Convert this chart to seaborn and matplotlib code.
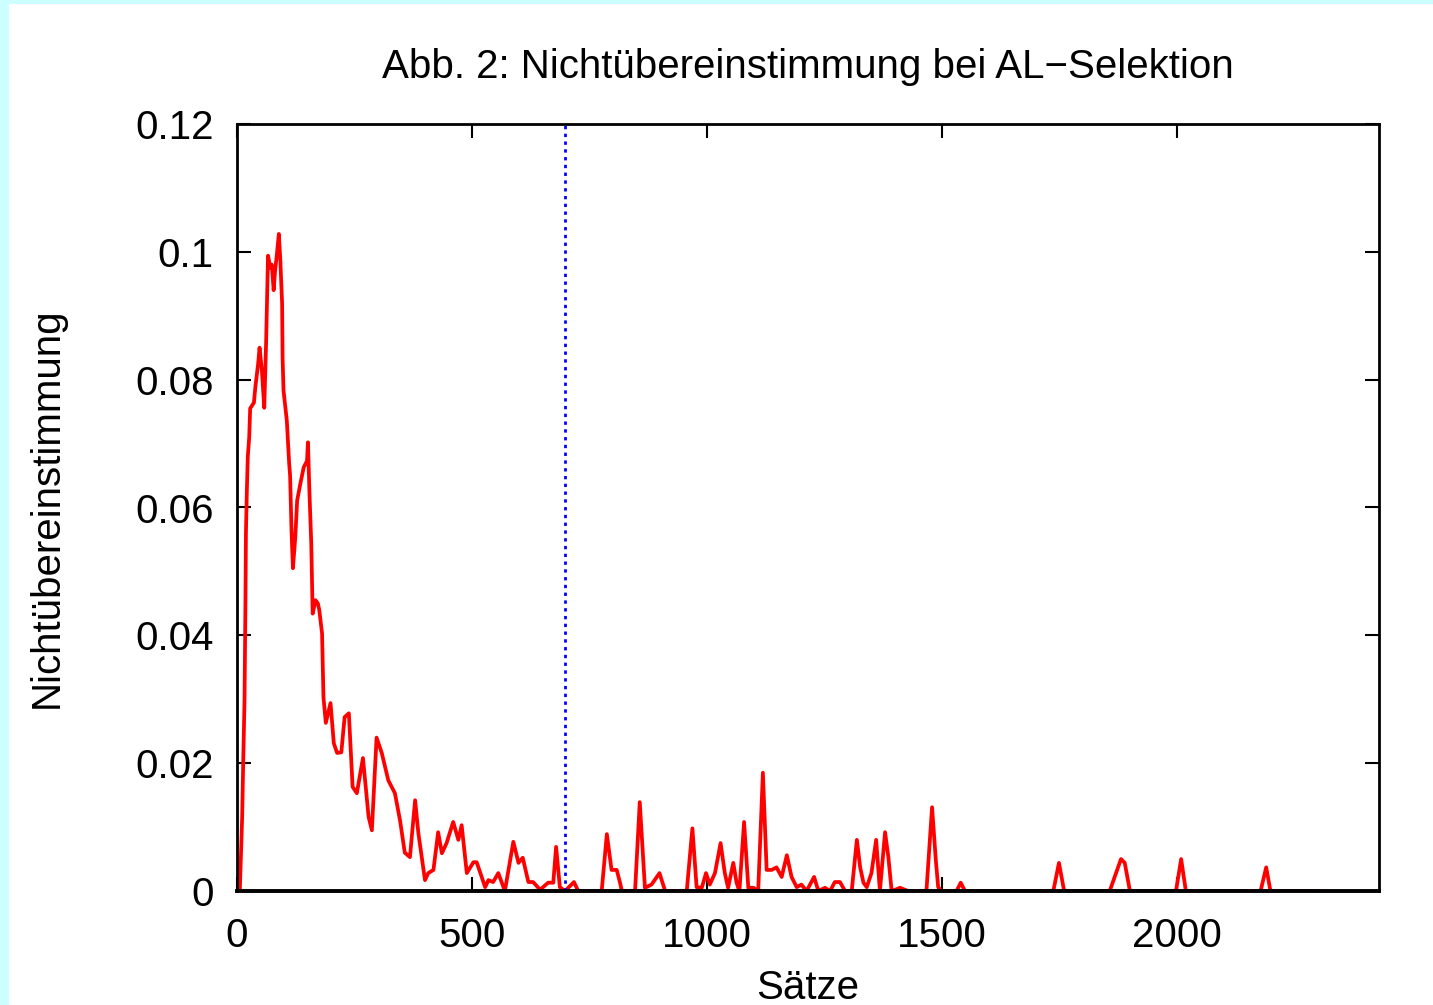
import numpy as np
import pandas as pd
import matplotlib
matplotlib.use("Agg")
import matplotlib.pyplot as plt
from matplotlib.patches import Rectangle
import seaborn as sns

saetze = [0, 6, 11, 13, 16, 18, 19, 21, 23, 26, 28, 36, 39, 45, 48, 53, 58, 62,
          66, 71, 74, 78, 81, 85, 89, 92, 96, 97, 99, 106, 111, 113, 116, 119,
          124, 128, 135, 142, 149, 151, 154, 158, 161, 167, 172, 175, 181, 184,
          189, 199, 206, 213, 222, 229, 238, 246, 255, 268, 273, 280, 287, 297,
          308, 322, 336, 347, 357, 368, 379, 386, 400, 407, 418, 428, 436, 446,
          460, 471, 478, 489, 503, 510, 528, 535, 545, 556, 570, 588, 599, 608,
          620, 630, 645, 662, 673, 679, 687, 698, 717, 726, 776, 787, 797, 808,
          815, 819, 847, 857, 868, 882, 899, 911, 957, 969, 978, 989, 998, 1006,
          1017, 1029, 1038, 1045, 1056, 1063, 1069, 1079, 1088, 1099, 1109, 1119,
          1127, 1138, 1148, 1159, 1170, 1180, 1191, 1201, 1212, 1228, 1237, 1251,
          1262, 1272, 1283, 1294, 1308, 1319, 1326, 1333, 1340, 1350, 1360, 1368,
          1379, 1386, 1393, 1411, 1428, 1467, 1479, 1487, 1492, 1499, 1531, 1540,
          1549, 1737, 1749, 1760, 1857, 1881, 1889, 1900, 1998, 2009, 2019, 2178,
          2190, 2199, 2300]
nicht = [0, 0, 0.0116, 0.0194, 0.0298, 0.0455, 0.056, 0.0627, 0.068, 0.071,
         0.0755, 0.0764, 0.0788, 0.0825, 0.085, 0.0814, 0.0756, 0.086, 0.0994,
         0.0975, 0.098, 0.094, 0.097, 0.0997, 0.1028, 0.099, 0.0919, 0.0834,
         0.0783, 0.0736, 0.0669, 0.065, 0.0564, 0.0505, 0.0553, 0.0611, 0.0638,
         0.0663, 0.0673, 0.0702, 0.0627, 0.0544, 0.0434, 0.0455, 0.045, 0.044,
         0.0403, 0.0303, 0.0263, 0.0294, 0.0231, 0.0216, 0.0217, 0.0272, 0.0278,
         0.0163, 0.0153, 0.0208, 0.017, 0.0116, 0.0095, 0.024, 0.0216, 0.0173,
         0.0153, 0.011, 0.006, 0.0053, 0.0142, 0.009, 0.0017, 0.0028, 0.0033,
         0.0092, 0.0059, 0.0075, 0.0108, 0.008, 0.0103, 0.0028, 0.0045, 0.0045,
         0.0006, 0.0017, 0.0014, 0.0028, 0, 0.0077, 0.0044, 0.0052, 0.0014,
         0.0014, 0.0002, 0.0013, 0.0013, 0.0069, 0.0006, 0, 0.0014, 0, 0,
         0.0089, 0.0033, 0.0033, 0.0013, 0, 0, 0.0139, 0.0005, 0.001, 0.0028, 0,
         0, 0.0098, 0.0006, 0.0005, 0.0028, 0.001, 0.0028, 0.0075, 0.0028,
         0.0005, 0.0044, 0.0013, 0, 0.0108, 0.0005, 0.0005, 0, 0.0185, 0.0033,
         0.0033, 0.0037, 0.0022, 0.0056, 0.0022, 0.0006, 0.001, 0, 0.0022, 0,
         0.0005, 0, 0.0014, 0.0014, 0, 0, 0.008, 0.0037, 0.0013, 0.0006, 0.0028,
         0.008, 0, 0.0092, 0.0053, 0, 0.0005, 0, 0, 0.0131, 0.0048, 0.0006, 0,
         0, 0.0013, 0, 0, 0.0044, 0, 0, 0.005, 0.0044, 0, 0, 0.005, 0, 0, 0.0037,
         0, 0]
grenze = 698
x_ticks = [0, 500, 1000, 1500, 2000]
y_ticks = [0, 0.02, 0.04, 0.06, 0.08, 0.1, 0.12]
y_ticklabels = ['0', '0.02', '0.04', '0.06', '0.08', '0.1', '0.12']

df = pd.DataFrame({'Saetze': saetze, 'Nicht': nicht})

# Plot ..................................................................
sns.set_style("ticks")
plt.rcParams['font.family'] = ['Liberation Sans', 'DejaVu Sans']
plt.rcParams['text.color'] = 'black'
plt.rcParams['axes.labelcolor'] = 'black'
plt.rcParams['xtick.color'] = 'black'
plt.rcParams['ytick.color'] = 'black'

fig = plt.figure(figsize=(14.33, 10.05), dpi=100, facecolor='#ccffff')
fig.patches.append(Rectangle((9/1433, 0), 1, 1 - 4/1005, transform=fig.transFigure,
                             facecolor='white', edgecolor='none', zorder=-10))
ax = fig.add_axes([237/1433, 1 - 891/1005, (1379-237)/1433, (891-124)/1005])
ax.set_zorder(5)

sns.lineplot(data=df, x='Saetze', y='Nicht', ax=ax, color='#ff0000', linewidth=2.7,
             sort=False, estimator=None)
ax.axvline(grenze, color='#0000ff', linestyle=(0, (1.2, 1.6)), linewidth=2)

ax.set_xlim(0, 2430)
ax.set_ylim(0, 0.12)
ax.set_xticks(x_ticks)
ax.set_yticks(y_ticks)
ax.set_yticklabels(y_ticklabels)
ax.tick_params(direction='in', top=True, right=True, length=10, width=1.5,
               labelsize=29)
ax.tick_params(axis='y', pad=17)
ax.tick_params(axis='x', pad=19)
for s in ax.spines.values():
    s.set_linewidth(2)
    s.set_color('black')
ax.spines['bottom'].set_linewidth(2.8)

ax.set_title('Abb. 2: Nichtübereinstimmung bei AL\u2212Selektion', fontsize=29, pad=33)
ax.set_xlabel('Sätze', fontsize=29, labelpad=10)
ax.set_ylabel('Nichtübereinstimmung', fontsize=29, labelpad=50)

plt.savefig('out.png', dpi=100, facecolor=fig.get_facecolor())
plt.close()
